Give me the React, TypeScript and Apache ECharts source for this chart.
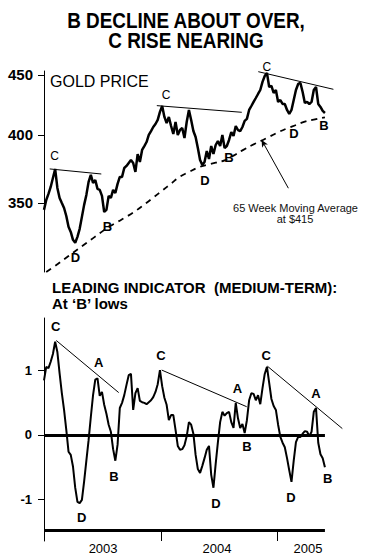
import React, { useEffect, useRef } from 'react';
import * as echarts from 'echarts';

// Weekly gold price (week 0 = first week of 2003)
const goldPrice = [
  345.3, 352.1, 356.3, 361.2, 367.6, 374.2, 360.5, 353.5, 350.0, 346.6,
  341.2, 334.0, 330.7, 325.6, 323.7, 327.5, 332.7, 340.6, 348.7, 355.6,
  364.8, 369.8, 364.1, 366.2, 359.8, 359.1, 354.9, 343.9, 345.3, 354.9,
  353.5, 359.1, 357.0, 363.4, 368.4, 368.4, 374.9, 376.4, 378.6, 380.8,
  378.6, 372.0, 385.3, 379.3, 388.4, 391.4, 394.5, 400.0, 403.1, 406.3,
  408.7, 412.0, 418.5, 423.4, 414.4, 409.5, 414.4, 407.1, 400.8, 410.3,
  400.0, 403.9, 405.5, 397.6, 410.3, 420.1, 412.0, 403.1, 398.4, 389.9,
  380.8, 377.1, 379.3, 387.6, 381.6, 391.4, 385.3, 392.2, 395.3, 391.4,
  400.0, 389.9, 391.4, 396.1, 402.3, 399.2, 407.1, 403.9, 403.1, 406.3,
  411.2, 412.8, 420.1, 423.4, 426.8, 430.1, 433.5, 436.9, 443.9, 449.1,
  451.8, 439.5, 440.4, 434.4, 436.9, 426.8, 428.4, 425.1, 425.1, 420.1,
  416.8, 420.1, 428.4, 436.9, 442.1, 443.0, 435.2, 425.9, 426.8, 425.1,
  426.8, 436.9, 439.5, 425.1, 422.6, 419.3, 417.6,
];

// 65-week moving average, read at these weeks
const maWeeks = [1, 5, 9, 13, 17, 21, 25, 29, 33, 37, 41, 45, 49, 53, 57, 61, 65, 69, 73, 77, 81, 85, 89, 93, 97, 101, 105, 109, 113, 117, 121, 126];
const maValues = [305.7, 309.4, 313.4, 317.4, 321.5, 325.6, 329.8, 333.9, 337.3, 340.7, 344.5, 349.0, 353.7, 358.6, 363.6, 368.6, 371.9, 375.1, 377.2, 378.8, 380.5, 384.1, 388.1, 391.8, 395.1, 398.6, 402.1, 405.2, 407.9, 410.6, 412.2, 414.1];

// Weekly leading indicator
const indicator = [
  0.85, 1.06, 1.04, 1.14, 1.26, 1.45, 1.29, 0.96, 0.65, 0.39,
  0.08, -0.26, -0.31, -0.49, -0.82, -1.04, -1.06, -1.01, -0.72, -0.40,
  -0.08, 0.28, 0.62, 0.86, 0.88, 0.61, 0.67, 0.47, 0.33, 0.16,
  0.05, -0.22, -0.40, -0.15, 0.42, 0.50, 0.62, 0.78, 0.93, 0.95,
  0.39, 0.65, 0.73, 0.53, 0.51, 0.50, 0.48, 0.51, 0.54, 0.59,
  0.67, 0.79, 1.01, 0.76, 0.58, 0.47, 0.23, 0.31, 0.31, 0.08,
  -0.17, -0.23, -0.22, -0.16, -0.02, 0.20, 0.16, 0.02, -0.31, -0.53,
  -0.59, -0.48, -0.36, -0.23, -0.17, -0.62, -0.82, -0.45, -0.11, 0.20,
  0.36, 0.30, 0.34, 0.36, 0.20, 0.11, 0.50, 0.26, 0.11, 0.17,
  0.03, 0.23, 0.54, 0.65, 0.64, 0.54, 0.62, 0.48, 0.73, 0.95,
  1.06, 0.81, 0.56, 0.45, 0.39, 0.16, -0.03, -0.12, -0.19, -0.36,
  -0.55, -0.73, -0.40, -0.11, -0.03, -0.03, 0.02, 0.06, 0.05, -0.02,
  0.05, 0.36, 0.42, -0.12, -0.30, -0.36, -0.50,
];

const priceTicks = [350, 400, 450];
const indicatorTicks = [-1, 0, 1];
const yearTickWeeks = [0, 52.7, 104.4];
const yearLabelWeeks = [26.5, 77.6, 118.4];
const yearLabels = ['2003', '2004', '2005'];

// Wave letters: [letter, week, value, bold]
const goldLetters: [string, number, number, boolean][] = [
  ['C', 4.7, 383.8, false], ['D', 14.1, 314.5, true], ['B', 28.4, 334.2, true],
  ['C', 54.7, 432.7, false], ['D', 72.2, 365.5, true], ['B', 83.0, 383.0, true],
  ['C', 99.9, 457.4, false], ['D', 112.1, 400.8, true], ['B', 125.6, 407.1, true],
];
const indicatorLetters: [string, number, number][] = [
  ['C', 5.2, 1.68], ['A', 24.5, 1.12], ['B', 31.4, -0.64], ['D', 16.9, -1.28],
  ['C', 52.5, 1.24], ['A', 86.8, 0.73], ['B', 91.0, -0.18], ['D', 77.1, -1.06],
  ['C', 99.6, 1.24], ['A', 122.0, 0.65], ['D', 110.7, -0.98], ['B', 127.2, -0.68],
];

// Trend lines: [week1, value1, week2, value2]
const goldTrends = [
  [2.56, 374.2, 25.7, 370.5],
  [50.6, 423.7, 88.7, 418.2],
  [96.1, 452.9, 129.8, 437.5],
];
const indicatorTrends = [
  [5.5, 1.47, 33.5, 0.66],
  [52.8, 1.01, 90.9, 0.44],
  [100.2, 1.07, 133.8, 0.10],
];
const maPointer = [97.6, 396.1, 109.6, 360.3];
const indicatorEndWeek = 126;
const indicatorFloor = -1.48;

const FONT = '"Liberation Sans", Arial, sans-serif';
const ln = Math.log;

export default function App() {
  const ref = useRef<HTMLDivElement>(null);
  useEffect(() => {
    if (!ref.current) return;
    const chart = echarts.init(ref.current, null, { renderer: 'svg' });
    const thin = { color: '#000', width: 1, type: 'solid' as const };
    const option: any = {
      animation: false,
      backgroundColor: '#fff',
      grid: [
        { left: 44, top: 71, width: 301, height: 201 },
        { left: 44, top: 318, width: 301, height: 223 },
      ],
      xAxis: [
        { gridIndex: 0, type: 'value', min: 0, max: 135, show: false },
        {
          gridIndex: 1, type: 'value', min: 0, max: 135,
          axisLine: { show: false, onZero: false },
          splitLine: { show: false },
          axisTick: { show: true, inside: true, length: 11, customValues: yearTickWeeks, lineStyle: { color: '#000', width: 1 } },
          axisLabel: {
            customValues: yearLabelWeeks,
            margin: 1,
            color: '#000',
            fontSize: 13,
            fontFamily: FONT,
            formatter: (v: number) => {
              let best = 0;
              yearLabelWeeks.forEach((w, i) => { if (Math.abs(w - v) < Math.abs(yearLabelWeeks[best] - v)) best = i; });
              return yearLabels[best];
            },
          },
        },
      ],
      yAxis: [
        {
          gridIndex: 0, type: 'value', min: 5.7225, max: 6.117,
          axisLine: { show: true, lineStyle: { color: '#000', width: 1 } },
          axisTick: { show: true, length: 6, customValues: priceTicks.map(ln), lineStyle: { color: '#000', width: 1 } },
          axisLabel: {
            customValues: priceTicks.map(ln), margin: 11, color: '#000', fontSize: 15, fontWeight: 'bold', fontFamily: FONT,
            formatter: (v: number) => String(Math.round(Math.exp(v))),
          },
          splitLine: { show: false },
        },
        {
          gridIndex: 1, type: 'value', min: -1.649, max: 1.82,
          axisLine: { show: true, lineStyle: { color: '#000', width: 1 } },
          axisTick: { show: true, length: 6, customValues: indicatorTicks, lineStyle: { color: '#000', width: 1 } },
          axisLabel: {
            customValues: indicatorTicks, margin: 12, color: '#000', fontSize: 13, fontWeight: 'bold', fontFamily: FONT,
            formatter: (v: number) => String(Math.round(v)),
          },
          splitLine: { show: false },
        },
      ],
      series: [
        {
          type: 'line', xAxisIndex: 0, yAxisIndex: 0,
          data: goldPrice.map((p, i) => [i, ln(p)]),
          showSymbol: false, symbol: 'none',
          lineStyle: { color: '#000', width: 2.5 },
          markLine: {
            silent: true, symbol: ['none', 'none'], label: { show: false },
            lineStyle: thin,
            data: [
              ...goldTrends.map((t) => [{ coord: [t[0], ln(t[1])] }, { coord: [t[2], ln(t[3])] }]),
              [
                { coord: [maPointer[0], ln(maPointer[1])], symbol: 'arrow', symbolSize: [5, 7] },
                { coord: [maPointer[2], ln(maPointer[3])], symbol: 'none' },
              ],
            ],
          },
        },
        {
          type: 'line', xAxisIndex: 0, yAxisIndex: 0,
          data: maWeeks.map((w, i) => [w, ln(maValues[i])]),
          smooth: true, showSymbol: false, symbol: 'none',
          lineStyle: { color: '#000', width: 1.8, type: [6, 5] },
        },
        {
          type: 'line', xAxisIndex: 1, yAxisIndex: 1,
          data: indicator.map((v, i) => [i, v]),
          showSymbol: false, symbol: 'none',
          lineStyle: { color: '#000', width: 2 },
          markLine: {
            silent: true, symbol: ['none', 'none'], label: { show: false },
            data: [
              [{ coord: [0, 0], lineStyle: { color: '#000', width: 3, type: 'solid' } }, { coord: [indicatorEndWeek, 0] }],
              [{ coord: [0, indicatorFloor], lineStyle: { color: '#000', width: 3, type: 'solid' } }, { coord: [indicatorEndWeek, indicatorFloor] }],
              ...indicatorTrends.map((t) => [{ coord: [t[0], t[1]], lineStyle: thin }, { coord: [t[2], t[3]] }]),
            ],
          },
        },
        {
          type: 'scatter', xAxisIndex: 0, yAxisIndex: 0, clip: false,
          symbol: 'circle', symbolSize: 1, itemStyle: { color: 'rgba(0,0,0,0)', opacity: 1 },
          label: { show: true, position: 'inside', formatter: '{b}', color: '#000', opacity: 1, fontSize: 13, fontFamily: FONT },
          data: goldLetters.map(([n, w, p, b]) => ({
            name: n, value: [w, ln(p)],
            label: { fontWeight: b ? 'bold' : 'normal', fontSize: b ? 13 : 12 },
          })),
        },
        {
          type: 'scatter', xAxisIndex: 1, yAxisIndex: 1, clip: false,
          symbol: 'circle', symbolSize: 1, itemStyle: { color: 'rgba(0,0,0,0)', opacity: 1 },
          label: { show: true, position: 'inside', formatter: '{b}', color: '#000', opacity: 1, fontSize: 13, fontWeight: 'bold', fontFamily: FONT },
          data: indicatorLetters.map(([n, w, v]) => ({ name: n, value: [w, v] })),
        },
      ],
      graphic: [
        {
          type: 'text', x: 186, y: 20, scaleX: 0.86,
          style: { text: 'B DECLINE ABOUT OVER,', font: `bold 22px ${FONT}`, fill: '#000', textAlign: 'center', textVerticalAlign: 'middle', align: 'center', verticalAlign: 'middle' },
        },
        {
          type: 'text', x: 186, y: 40, scaleX: 0.86,
          style: { text: 'C RISE NEARING', font: `bold 22px ${FONT}`, fill: '#000', textAlign: 'center', textVerticalAlign: 'middle', align: 'center', verticalAlign: 'middle' },
        },
        {
          type: 'text', x: 50, y: 81,
          style: { text: 'GOLD PRICE', font: `16px ${FONT}`, fill: '#000', textAlign: 'left', textVerticalAlign: 'middle', align: 'left', verticalAlign: 'middle' },
        },
        {
          type: 'text', x: 52, y: 287,
          style: { text: 'LEADING INDICATOR\u00a0 (MEDIUM-TERM):', font: `bold 15px ${FONT}`, fill: '#000', textAlign: 'left', textVerticalAlign: 'middle', align: 'left', verticalAlign: 'middle' },
        },
        {
          type: 'text', x: 52, y: 303,
          style: { text: 'At \u2018B\u2019 lows', font: `bold 15px ${FONT}`, fill: '#000', textAlign: 'left', textVerticalAlign: 'middle', align: 'left', verticalAlign: 'middle' },
        },
        {
          type: 'text', x: 295.5, y: 207.5,
          style: { text: '65 Week Moving Average', font: `11px ${FONT}`, fill: '#111', textAlign: 'center', textVerticalAlign: 'middle', align: 'center', verticalAlign: 'middle' },
        },
        {
          type: 'text', x: 295, y: 219,
          style: { text: 'at $415', font: `11px ${FONT}`, fill: '#111', textAlign: 'center', textVerticalAlign: 'middle', align: 'center', verticalAlign: 'middle' },
        },
      ],
    };
    chart.setOption(option);
    return () => chart.dispose();
  }, []);
  return (
    <div
      ref={ref}
      style={{ position: 'fixed', left: 0, top: 0, width: 365, height: 559, background: '#fff' }}
    />
  );
}
